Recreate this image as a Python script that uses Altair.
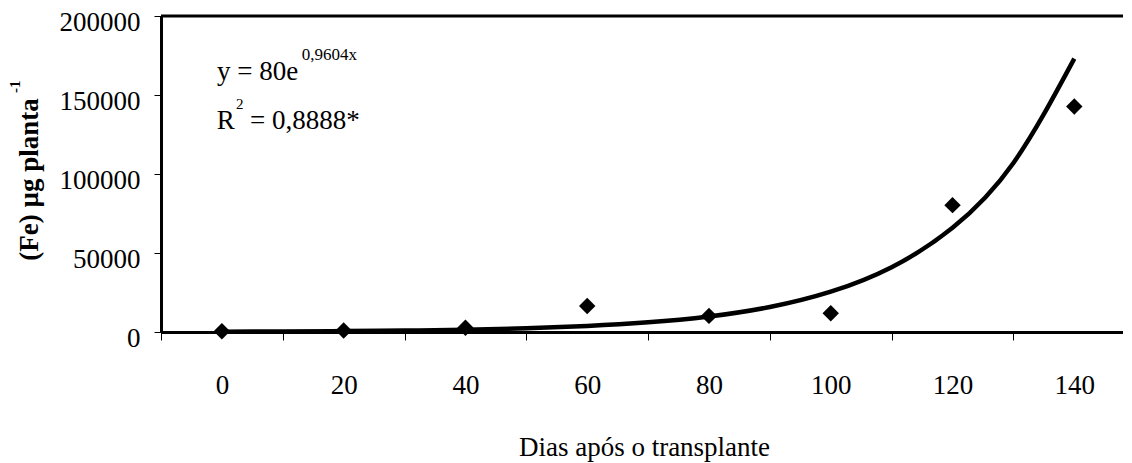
import altair as alt
import pandas as pd

# Observed points (days after transplant, Fe in µg per plant)
dias = [0, 20, 40, 60, 80, 100, 120, 140]
fe = [500, 1000, 2700, 16500, 10200, 11900, 80300, 142700]

# Fitted trend curve
curve_x = [0, 10, 20, 30, 40, 50, 60, 70, 80, 90, 100, 110, 120, 130, 140]
curve_y = [215, 350, 560, 900, 1450, 2350, 3800, 6100, 9800, 15800, 25500, 41000, 66000, 107000, 173000]

x_ticks = [-10, 0, 10, 20, 30, 40, 50, 60, 70, 80, 90, 100, 110, 120, 130, 140]
y_ticks = [0, 50000, 100000, 150000, 200000]

FONT = "Times New Roman, Liberation Serif, DejaVu Serif, serif"

pts = pd.DataFrame({"dias": dias, "fe": fe})
crv = pd.DataFrame({"dias": curve_x, "fe": curve_y})

x_axis = alt.Axis(
    values=x_ticks,
    labelExpr="datum.value % 20 == 0 ? datum.label : ''",
    tickOpacity={"condition": {"test": "datum.value % 20 == 0", "value": 0}, "value": 1},
    grid=False,
    domainColor="black",
    domainWidth=3,
    tickColor="black",
    tickWidth=1,
    tickSize=8,
    labelFont=FONT,
    labelFontSize=27,
    labelColor="black",
    labelBaseline="alphabetic",
    labelPadding=53,
    labelFlush=False,
    labelOverlap=False,
    title="Dias após o transplante",
    titleFont=FONT,
    titleFontSize=27,
    titleFontWeight="normal",
    titleColor="black",
    titleBaseline="alphabetic",
    titleAlign="center",
    titleX=483,
    titleY=123,
)

y_axis = alt.Axis(
    values=y_ticks,
    format="d",
    grid=False,
    domainColor="black",
    domainWidth=3,
    tickColor="black",
    tickWidth=1,
    tickSize=7,
    labelFont=FONT,
    labelFontSize=27,
    labelColor="black",
    labelPadding=14,
    labelBaseline="middle",
    labelOffset=6,
    labelFlush=False,
    labelOverlap=False,
    title="(Fe) µg planta",
    titleFont=FONT,
    titleFontSize=27,
    titleFontWeight="bold",
    titleColor="black",
    titleAngle=270,
    titleAlign="center",
    titleBaseline="middle",
    titleX=-132,
    titleY=163,
)

xs = alt.Scale(domain=[-10, 148], nice=False, zero=False)
ys = alt.Scale(domain=[0, 200000], nice=False)


def xenc():
    return alt.X("dias:Q", scale=xs, axis=x_axis)


def yenc():
    return alt.Y("fe:Q", scale=ys, axis=y_axis)


points = alt.Chart(pts).mark_point(
    shape="diamond", filled=True, size=270, color="black", opacity=1
).encode(x=xenc(), y=yenc())

line = alt.Chart(crv).mark_line(
    interpolate="natural", color="black", strokeWidth=4.5
).encode(x=xenc(), y=yenc())

top_rule = alt.Chart(pd.DataFrame({"fe": [200000]})).mark_rule(
    color="black", strokeWidth=3
).encode(y=alt.Y("fe:Q", scale=ys, axis=y_axis))

one = pd.DataFrame({"k": [0]})


def label(text, x, y, size, weight="normal", angle=None, align="left", baseline="alphabetic"):
    kw = dict(text=text, font=FONT, fontSize=size, fontWeight=weight, color="black",
              align=align, baseline=baseline)
    if angle is not None:
        kw["angle"] = angle
    return alt.Chart(one).mark_text(**kw).encode(x=alt.value(x), y=alt.value(y))


texts = [
    label("y = 80e", 56, 64.3, 27),
    label("0,9604x", 140.7, 44.3, 17),
    label("R", 55.7, 112.6, 27),
    label("2", 75, 92.6, 15),
    label("= 0,8888*", 89, 112.6, 27),
    label("-1", -146, 70.8, 15, weight="bold", angle=270, align="center", baseline="middle"),
]

chart = alt.layer(top_rule, line, points, *texts).properties(
    width=962,
    height=316,
    padding={"left": 153, "top": 8, "right": 0, "bottom": 130},
    autosize=alt.AutoSizeParams(type="none"),
    background="white",
).configure_view(stroke=None)

chart.save("out.html", embed_options={"renderer": "svg", "actions": False})
